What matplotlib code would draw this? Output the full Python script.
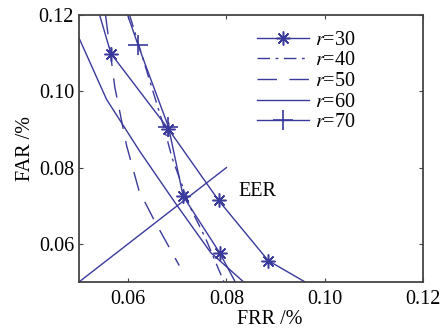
import matplotlib
matplotlib.use("Agg")
import matplotlib.pyplot as plt
from matplotlib.lines import Line2D
from matplotlib.ticker import FormatStrFormatter

plt.rcParams["font.family"] = "serif"
plt.rcParams["font.serif"] = ["Liberation Serif", "DejaVu Serif"]
plt.rcParams["mathtext.fontset"] = "stix"

# FRR / FAR curves
r30_frr = [0.0542, 0.0565, 0.0682, 0.0784, 0.0885, 0.0960]
r30_far = [0.1200, 0.1099, 0.0901, 0.0714, 0.0556, 0.0500]

r40_frr = [0.0603, 0.0640, 0.0671, 0.0690, 0.0727, 0.0757, 0.0795]
r40_far = [0.1200, 0.1044, 0.0914, 0.0823, 0.0694, 0.0616, 0.0500]

r50_frr = [0.0554, 0.0573, 0.0597, 0.0622, 0.0653, 0.0704]
r50_far = [0.1200, 0.1010, 0.0857, 0.0740, 0.0662, 0.0543]

r60_frr = [0.0500, 0.0556, 0.0624, 0.0696, 0.0768, 0.0835]
r60_far = [0.1140, 0.0979, 0.0842, 0.0707, 0.0577, 0.0500]

r70_frr = [0.0599, 0.0620, 0.0682, 0.0712, 0.0786, 0.0818]
r70_far = [0.1200, 0.1122, 0.0907, 0.0725, 0.0577, 0.0500]

eer_line = [0.05, 0.08]

labels = ["30", "40", "50", "60", "70"]
ticks = [0.06, 0.08, 0.10, 0.12]

color = "#3a3a9c"
lw = 1.0
fs = 14.5
dashdot = (9, 4, 2, 4)
dashed = (14, 9)
star = dict(marker=(8, 2, 0), ms=10, mew=1.1)
plus = dict(marker="+", ms=14, mew=1.2)

fig = plt.figure(figsize=(4.48, 3.30), dpi=100)
ax = fig.add_axes([0.1763, 0.1455, 0.768, 0.809])

ax.plot(r30_frr, r30_far, color=color, lw=lw)
ax.plot(r30_frr[1:5], r30_far[1:5], ls="none", color=color, **star)
ax.plot(r40_frr, r40_far, color=color, lw=lw, dashes=dashdot)
ax.plot(r50_frr, r50_far, color=color, lw=lw, dashes=dashed)
ax.plot(r60_frr, r60_far, color=color, lw=lw)
ax.plot(r70_frr, r70_far, color=color, lw=lw)
ax.plot(r70_frr[1:3], r70_far[1:3], ls="none", color=color, **plus)
ax.plot(r70_frr[3:5], r70_far[3:5], ls="none", color=color, **star)
ax.plot(eer_line, eer_line, color=color, lw=lw)

ax.text(0.0825, 0.0738, "EER", fontsize=fs, va="center", ha="left")

handles = [
    Line2D([], [], color=color, lw=lw, **star),
    Line2D([], [], color=color, lw=lw, dashes=dashdot),
    Line2D([], [], color=color, lw=lw, dashes=dashed),
    Line2D([], [], color=color, lw=lw),
    Line2D([], [], color=color, lw=lw, **plus),
]
ax.legend(handles, [r"$r$=" + s for s in labels], loc="upper left",
          bbox_to_anchor=(0.517, 0.942), frameon=False, fontsize=fs,
          handlelength=2.6, handletextpad=0.3, labelspacing=0.08,
          borderpad=0, borderaxespad=0)

ax.set_xlim(0.05, 0.12)
ax.set_ylim(0.05, 0.12)
ax.set_xticks(ticks)
ax.set_yticks(ticks)
ax.xaxis.set_major_formatter(FormatStrFormatter("%.2f"))
ax.yaxis.set_major_formatter(FormatStrFormatter("%.2f"))
ax.tick_params(direction="in", top=True, right=True, labelsize=fs, length=3, color="#444444")
ax.tick_params(axis="x", pad=6)
for sp in ax.spines.values():
    sp.set_color("#444444")
    sp.set_linewidth(1.3)

ax.set_xlabel("FRR /%", fontsize=fs)
ax.set_ylabel("FAR /%", fontsize=fs)
ax.xaxis.set_label_coords(0.555, -0.105)
ax.yaxis.set_label_coords(-0.128, 0.5)

fig.savefig("out.png", dpi=100)
